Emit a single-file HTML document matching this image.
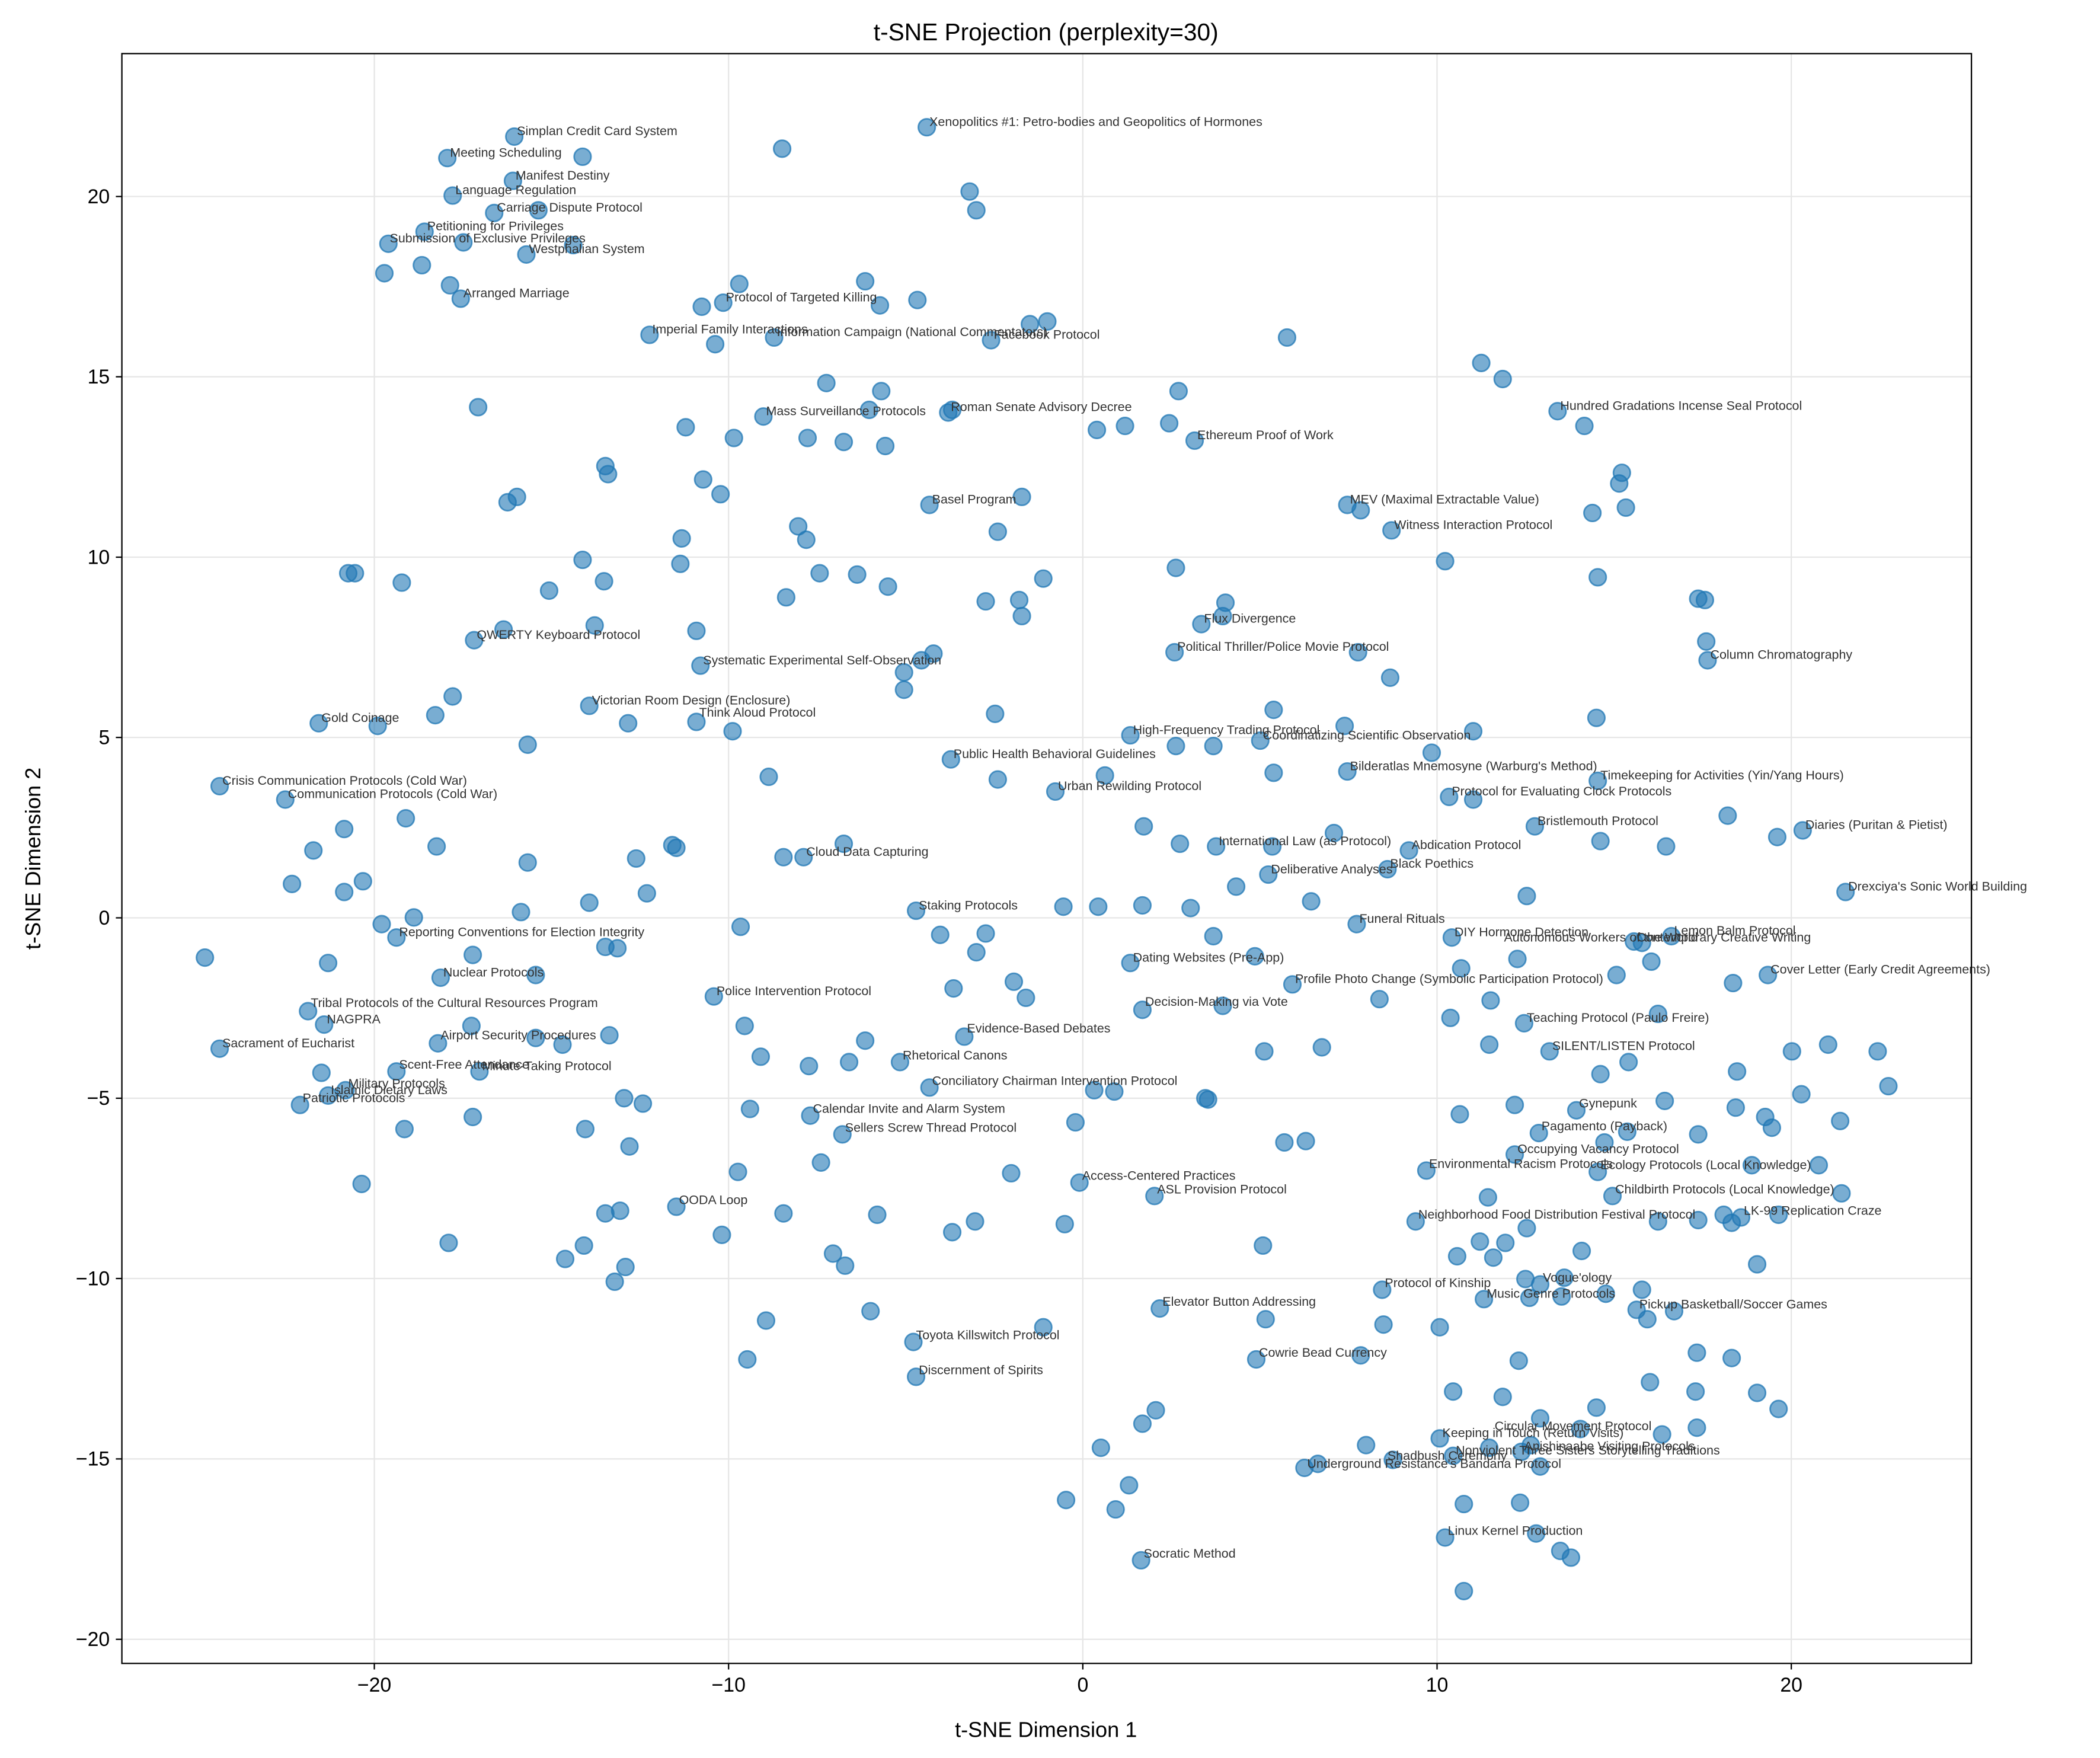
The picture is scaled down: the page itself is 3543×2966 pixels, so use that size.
<!DOCTYPE html>
<html><head><meta charset="utf-8"><style>
html,body{margin:0;padding:0;background:#fff;}
svg{display:block;}
text{font-family:"Liberation Sans","DejaVu Sans",sans-serif;}
.l{font-size:9.5px;fill:#333;}
.t{font-size:15px;fill:#000;}
</style></head><body>
<svg width="3543" height="2966" viewBox="0 0 1568 1312.6" xmlns="http://www.w3.org/2000/svg">
<rect width="1568" height="1312.6" fill="#fff"/>
<g stroke="#e6e6e6" stroke-width="1">
<line x1="279.5" y1="40" x2="279.5" y2="1242"/><line x1="544" y1="40" x2="544" y2="1242"/><line x1="808.5" y1="40" x2="808.5" y2="1242"/><line x1="1073" y1="40" x2="1073" y2="1242"/><line x1="1337.5" y1="40" x2="1337.5" y2="1242"/>
<line x1="91" y1="1224" x2="1472" y2="1224"/><line x1="91" y1="1089.3" x2="1472" y2="1089.3"/><line x1="91" y1="954.6" x2="1472" y2="954.6"/><line x1="91" y1="820" x2="1472" y2="820"/><line x1="91" y1="685.3" x2="1472" y2="685.3"/><line x1="91" y1="550.6" x2="1472" y2="550.6"/><line x1="91" y1="416" x2="1472" y2="416"/><line x1="91" y1="281.3" x2="1472" y2="281.3"/><line x1="91" y1="146.7" x2="1472" y2="146.7"/>
</g>
<g fill="#1f77b4" fill-opacity="0.6" stroke="#1f77b4" stroke-opacity="0.75" stroke-width="1.2">
<circle cx="384" cy="102" r="6.3"/><circle cx="692" cy="95" r="6.3"/><circle cx="334" cy="118" r="6.3"/><circle cx="383" cy="135" r="6.3"/><circle cx="338" cy="146" r="6.3"/><circle cx="369" cy="159" r="6.3"/><circle cx="317" cy="173" r="6.3"/><circle cx="290" cy="182" r="6.3"/><circle cx="393" cy="190" r="6.3"/><circle cx="344" cy="223" r="6.3"/><circle cx="485" cy="250" r="6.3"/><circle cx="540" cy="226" r="6.3"/><circle cx="578" cy="252" r="6.3"/><circle cx="740" cy="254" r="6.3"/><circle cx="708" cy="308" r="6.3"/><circle cx="570" cy="311" r="6.3"/><circle cx="892" cy="329" r="6.3"/><circle cx="1163" cy="307" r="6.3"/><circle cx="694" cy="377" r="6.3"/><circle cx="1006" cy="377" r="6.3"/><circle cx="1039" cy="396" r="6.3"/><circle cx="897" cy="466" r="6.3"/><circle cx="354" cy="478" r="6.3"/><circle cx="877" cy="487" r="6.3"/><circle cx="523" cy="497" r="6.3"/><circle cx="1275" cy="493" r="6.3"/><circle cx="440" cy="527" r="6.3"/><circle cx="520" cy="539" r="6.3"/><circle cx="238" cy="540" r="6.3"/><circle cx="844" cy="549" r="6.3"/><circle cx="941" cy="553" r="6.3"/><circle cx="710" cy="567" r="6.3"/><circle cx="164" cy="587" r="6.3"/><circle cx="213" cy="597" r="6.3"/><circle cx="1006" cy="576" r="6.3"/><circle cx="1193" cy="583" r="6.3"/><circle cx="1082" cy="595" r="6.3"/><circle cx="788" cy="591" r="6.3"/><circle cx="1146" cy="617" r="6.3"/><circle cx="1346" cy="620" r="6.3"/><circle cx="908" cy="632" r="6.3"/><circle cx="1052" cy="635" r="6.3"/><circle cx="600" cy="640" r="6.3"/><circle cx="947" cy="653" r="6.3"/><circle cx="1036" cy="649" r="6.3"/><circle cx="1378" cy="666" r="6.3"/><circle cx="684" cy="680" r="6.3"/><circle cx="1013" cy="690" r="6.3"/><circle cx="296" cy="700" r="6.3"/><circle cx="1084" cy="700" r="6.3"/><circle cx="1248" cy="699" r="6.3"/><circle cx="1220" cy="703" r="6.3"/><circle cx="329" cy="730" r="6.3"/><circle cx="844" cy="719" r="6.3"/><circle cx="1320" cy="728" r="6.3"/><circle cx="965" cy="735" r="6.3"/><circle cx="533" cy="744" r="6.3"/><circle cx="230" cy="755" r="6.3"/><circle cx="242" cy="765" r="6.3"/><circle cx="853" cy="754" r="6.3"/><circle cx="1138" cy="764" r="6.3"/><circle cx="720" cy="774" r="6.3"/><circle cx="164" cy="783" r="6.3"/><circle cx="327" cy="779" r="6.3"/><circle cx="1157" cy="785" r="6.3"/><circle cx="672" cy="793" r="6.3"/><circle cx="296" cy="800" r="6.3"/><circle cx="358" cy="800" r="6.3"/><circle cx="258" cy="814" r="6.3"/><circle cx="245" cy="818" r="6.3"/><circle cx="224" cy="825" r="6.3"/><circle cx="694" cy="812" r="6.3"/><circle cx="1177" cy="829" r="6.3"/><circle cx="605" cy="833" r="6.3"/><circle cx="1149" cy="846" r="6.3"/><circle cx="629" cy="847" r="6.3"/><circle cx="1131" cy="862" r="6.3"/><circle cx="1065" cy="874" r="6.3"/><circle cx="1193" cy="875" r="6.3"/><circle cx="806" cy="883" r="6.3"/><circle cx="1204" cy="893" r="6.3"/><circle cx="862" cy="893" r="6.3"/><circle cx="505" cy="901" r="6.3"/><circle cx="1057" cy="912" r="6.3"/><circle cx="1300" cy="909" r="6.3"/><circle cx="1150" cy="959" r="6.3"/><circle cx="1032" cy="963" r="6.3"/><circle cx="1108" cy="970" r="6.3"/><circle cx="1222" cy="978" r="6.3"/><circle cx="866" cy="977" r="6.3"/><circle cx="682" cy="1002" r="6.3"/><circle cx="938" cy="1015" r="6.3"/><circle cx="684" cy="1028" r="6.3"/><circle cx="1180" cy="1067" r="6.3"/><circle cx="1075" cy="1074" r="6.3"/><circle cx="1136" cy="1084" r="6.3"/><circle cx="1085" cy="1087" r="6.3"/><circle cx="1040" cy="1090" r="6.3"/><circle cx="974" cy="1096" r="6.3"/><circle cx="1079" cy="1148" r="6.3"/><circle cx="852" cy="1165" r="6.3"/>
<circle cx="584" cy="111" r="6.3"/><circle cx="724" cy="143" r="6.3"/><circle cx="729" cy="157" r="6.3"/><circle cx="287" cy="204" r="6.3"/><circle cx="315" cy="198" r="6.3"/><circle cx="336" cy="213" r="6.3"/><circle cx="346" cy="181" r="6.3"/><circle cx="402" cy="157" r="6.3"/><circle cx="435" cy="117" r="6.3"/><circle cx="428" cy="183" r="6.3"/><circle cx="524" cy="229" r="6.3"/><circle cx="552" cy="212" r="6.3"/><circle cx="646" cy="210" r="6.3"/><circle cx="657" cy="228" r="6.3"/><circle cx="685" cy="224" r="6.3"/><circle cx="534" cy="257" r="6.3"/><circle cx="769" cy="242" r="6.3"/><circle cx="782" cy="240" r="6.3"/><circle cx="961" cy="252" r="6.3"/><circle cx="357" cy="304" r="6.3"/><circle cx="617" cy="286" r="6.3"/><circle cx="658" cy="292" r="6.3"/><circle cx="649" cy="306" r="6.3"/><circle cx="512" cy="319" r="6.3"/><circle cx="548" cy="327" r="6.3"/><circle cx="603" cy="327" r="6.3"/><circle cx="630" cy="330" r="6.3"/><circle cx="661" cy="333" r="6.3"/><circle cx="711" cy="306" r="6.3"/><circle cx="819" cy="321" r="6.3"/><circle cx="840" cy="318" r="6.3"/><circle cx="873" cy="316" r="6.3"/><circle cx="880" cy="292" r="6.3"/><circle cx="1106" cy="271" r="6.3"/><circle cx="1122" cy="283" r="6.3"/><circle cx="1183" cy="318" r="6.3"/><circle cx="1211" cy="353" r="6.3"/><circle cx="1209" cy="361" r="6.3"/><circle cx="1214" cy="379" r="6.3"/><circle cx="1189" cy="383" r="6.3"/><circle cx="1016" cy="381" r="6.3"/><circle cx="452" cy="348" r="6.3"/><circle cx="454" cy="354" r="6.3"/><circle cx="379" cy="375" r="6.3"/><circle cx="386" cy="371" r="6.3"/><circle cx="525" cy="358" r="6.3"/><circle cx="538" cy="369" r="6.3"/><circle cx="763" cy="371" r="6.3"/><circle cx="745" cy="397" r="6.3"/><circle cx="596" cy="393" r="6.3"/><circle cx="602" cy="403" r="6.3"/><circle cx="509" cy="402" r="6.3"/><circle cx="508" cy="421" r="6.3"/><circle cx="435" cy="418" r="6.3"/><circle cx="451" cy="434" r="6.3"/><circle cx="260" cy="428" r="6.3"/><circle cx="265" cy="428" r="6.3"/><circle cx="300" cy="435" r="6.3"/><circle cx="410" cy="441" r="6.3"/><circle cx="587" cy="446" r="6.3"/><circle cx="612" cy="428" r="6.3"/><circle cx="640" cy="429" r="6.3"/><circle cx="663" cy="438" r="6.3"/><circle cx="736" cy="449" r="6.3"/><circle cx="779" cy="432" r="6.3"/><circle cx="878" cy="424" r="6.3"/><circle cx="915" cy="450" r="6.3"/><circle cx="913" cy="460" r="6.3"/><circle cx="1079" cy="419" r="6.3"/><circle cx="1193" cy="431" r="6.3"/><circle cx="1268" cy="447" r="6.3"/><circle cx="1273" cy="448" r="6.3"/><circle cx="1274" cy="479" r="6.3"/><circle cx="1014" cy="487" r="6.3"/><circle cx="1038" cy="506" r="6.3"/><circle cx="444" cy="467" r="6.3"/><circle cx="376" cy="470" r="6.3"/><circle cx="520" cy="471" r="6.3"/><circle cx="697" cy="488" r="6.3"/><circle cx="688" cy="493" r="6.3"/><circle cx="675" cy="502" r="6.3"/><circle cx="675" cy="515" r="6.3"/><circle cx="761" cy="448" r="6.3"/><circle cx="763" cy="460" r="6.3"/><circle cx="338" cy="520" r="6.3"/><circle cx="325" cy="534" r="6.3"/><circle cx="282" cy="542" r="6.3"/><circle cx="469" cy="540" r="6.3"/><circle cx="547" cy="546" r="6.3"/><circle cx="743" cy="533" r="6.3"/><circle cx="951" cy="530" r="6.3"/><circle cx="1004" cy="542" r="6.3"/><circle cx="1100" cy="546" r="6.3"/><circle cx="1192" cy="536" r="6.3"/><circle cx="1069" cy="562" r="6.3"/><circle cx="878" cy="557" r="6.3"/><circle cx="906" cy="557" r="6.3"/><circle cx="394" cy="556" r="6.3"/><circle cx="574" cy="580" r="6.3"/><circle cx="745" cy="582" r="6.3"/><circle cx="825" cy="579" r="6.3"/><circle cx="951" cy="577" r="6.3"/><circle cx="1100" cy="597" r="6.3"/><circle cx="1290" cy="609" r="6.3"/><circle cx="1327" cy="625" r="6.3"/><circle cx="1244" cy="632" r="6.3"/><circle cx="854" cy="617" r="6.3"/><circle cx="881" cy="630" r="6.3"/><circle cx="950" cy="632" r="6.3"/><circle cx="996" cy="622" r="6.3"/><circle cx="1195" cy="628" r="6.3"/><circle cx="326" cy="632" r="6.3"/><circle cx="394" cy="644" r="6.3"/><circle cx="303" cy="611" r="6.3"/><circle cx="234" cy="635" r="6.3"/><circle cx="257" cy="619" r="6.3"/><circle cx="271" cy="658" r="6.3"/><circle cx="218" cy="660" r="6.3"/><circle cx="257" cy="666" r="6.3"/><circle cx="475" cy="641" r="6.3"/><circle cx="502" cy="631" r="6.3"/><circle cx="505" cy="633" r="6.3"/><circle cx="440" cy="674" r="6.3"/><circle cx="483" cy="667" r="6.3"/><circle cx="585" cy="640" r="6.3"/><circle cx="630" cy="630" r="6.3"/><circle cx="389" cy="681" r="6.3"/><circle cx="285" cy="690" r="6.3"/><circle cx="309" cy="685" r="6.3"/><circle cx="553" cy="692" r="6.3"/><circle cx="702" cy="698" r="6.3"/><circle cx="736" cy="697" r="6.3"/><circle cx="729" cy="711" r="6.3"/><circle cx="794" cy="677" r="6.3"/><circle cx="820" cy="677" r="6.3"/><circle cx="853" cy="676" r="6.3"/><circle cx="889" cy="678" r="6.3"/><circle cx="906" cy="699" r="6.3"/><circle cx="923" cy="662" r="6.3"/><circle cx="979" cy="673" r="6.3"/><circle cx="1140" cy="669" r="6.3"/><circle cx="1226" cy="704" r="6.3"/><circle cx="1233" cy="718" r="6.3"/><circle cx="153" cy="715" r="6.3"/><circle cx="245" cy="719" r="6.3"/><circle cx="353" cy="713" r="6.3"/><circle cx="452" cy="707" r="6.3"/><circle cx="461" cy="708" r="6.3"/><circle cx="400" cy="728" r="6.3"/><circle cx="1091" cy="723" r="6.3"/><circle cx="1133" cy="716" r="6.3"/><circle cx="1207" cy="728" r="6.3"/><circle cx="1294" cy="734" r="6.3"/><circle cx="757" cy="733" r="6.3"/><circle cx="766" cy="745" r="6.3"/><circle cx="712" cy="738" r="6.3"/><circle cx="937" cy="714" r="6.3"/><circle cx="913" cy="751" r="6.3"/><circle cx="1030" cy="746" r="6.3"/><circle cx="1113" cy="747" r="6.3"/><circle cx="1083" cy="760" r="6.3"/><circle cx="1238" cy="757" r="6.3"/><circle cx="1112" cy="780" r="6.3"/><circle cx="1338" cy="785" r="6.3"/><circle cx="1365" cy="780" r="6.3"/><circle cx="1402" cy="785" r="6.3"/><circle cx="944" cy="785" r="6.3"/><circle cx="987" cy="782" r="6.3"/><circle cx="556" cy="766" r="6.3"/><circle cx="568" cy="789" r="6.3"/><circle cx="604" cy="796" r="6.3"/><circle cx="646" cy="777" r="6.3"/><circle cx="634" cy="793" r="6.3"/><circle cx="240" cy="801" r="6.3"/><circle cx="400" cy="775" r="6.3"/><circle cx="420" cy="780" r="6.3"/><circle cx="455" cy="773" r="6.3"/><circle cx="352" cy="766" r="6.3"/><circle cx="1195" cy="802" r="6.3"/><circle cx="1216" cy="793" r="6.3"/><circle cx="1297" cy="800" r="6.3"/><circle cx="1345" cy="817" r="6.3"/><circle cx="1410" cy="811" r="6.3"/><circle cx="900" cy="820" r="6.3"/><circle cx="902" cy="821" r="6.3"/><circle cx="817" cy="814" r="6.3"/><circle cx="832" cy="815" r="6.3"/><circle cx="466" cy="820" r="6.3"/><circle cx="480" cy="824" r="6.3"/><circle cx="560" cy="828" r="6.3"/><circle cx="1090" cy="832" r="6.3"/><circle cx="1131" cy="825" r="6.3"/><circle cx="1243" cy="822" r="6.3"/><circle cx="1296" cy="827" r="6.3"/><circle cx="1318" cy="834" r="6.3"/><circle cx="1374" cy="837" r="6.3"/><circle cx="1323" cy="842" r="6.3"/><circle cx="437" cy="843" r="6.3"/><circle cx="302" cy="843" r="6.3"/><circle cx="353" cy="834" r="6.3"/><circle cx="470" cy="856" r="6.3"/><circle cx="803" cy="838" r="6.3"/><circle cx="959" cy="853" r="6.3"/><circle cx="975" cy="852" r="6.3"/><circle cx="1198" cy="853" r="6.3"/><circle cx="1215" cy="845" r="6.3"/><circle cx="1268" cy="847" r="6.3"/><circle cx="1358" cy="870" r="6.3"/><circle cx="1308" cy="870" r="6.3"/><circle cx="1375" cy="891" r="6.3"/><circle cx="613" cy="868" r="6.3"/><circle cx="551" cy="875" r="6.3"/><circle cx="755" cy="876" r="6.3"/><circle cx="1111" cy="894" r="6.3"/><circle cx="1268" cy="911" r="6.3"/><circle cx="1287" cy="907" r="6.3"/><circle cx="1293" cy="913" r="6.3"/><circle cx="1328" cy="907" r="6.3"/><circle cx="270" cy="884" r="6.3"/><circle cx="463" cy="904" r="6.3"/><circle cx="452" cy="906" r="6.3"/><circle cx="335" cy="928" r="6.3"/><circle cx="422" cy="940" r="6.3"/><circle cx="436" cy="930" r="6.3"/><circle cx="459" cy="957" r="6.3"/><circle cx="467" cy="946" r="6.3"/><circle cx="539" cy="922" r="6.3"/><circle cx="585" cy="906" r="6.3"/><circle cx="655" cy="907" r="6.3"/><circle cx="711" cy="920" r="6.3"/><circle cx="728" cy="912" r="6.3"/><circle cx="795" cy="914" r="6.3"/><circle cx="943" cy="930" r="6.3"/><circle cx="1115" cy="939" r="6.3"/><circle cx="1088" cy="938" r="6.3"/><circle cx="1105" cy="927" r="6.3"/><circle cx="1124" cy="928" r="6.3"/><circle cx="1181" cy="934" r="6.3"/><circle cx="1312" cy="944" r="6.3"/><circle cx="1238" cy="912" r="6.3"/><circle cx="1140" cy="917" r="6.3"/><circle cx="622" cy="936" r="6.3"/><circle cx="631" cy="945" r="6.3"/><circle cx="1199" cy="966" r="6.3"/><circle cx="1226" cy="963" r="6.3"/><circle cx="1168" cy="954" r="6.3"/><circle cx="1139" cy="955" r="6.3"/><circle cx="1166" cy="968" r="6.3"/><circle cx="1230" cy="985" r="6.3"/><circle cx="1250" cy="979" r="6.3"/><circle cx="1142" cy="969" r="6.3"/><circle cx="945" cy="985" r="6.3"/><circle cx="1033" cy="989" r="6.3"/><circle cx="650" cy="979" r="6.3"/><circle cx="572" cy="986" r="6.3"/><circle cx="779" cy="991" r="6.3"/><circle cx="1075" cy="991" r="6.3"/><circle cx="1016" cy="1012" r="6.3"/><circle cx="1134" cy="1016" r="6.3"/><circle cx="1267" cy="1010" r="6.3"/><circle cx="1293" cy="1014" r="6.3"/><circle cx="558" cy="1015" r="6.3"/><circle cx="1085" cy="1039" r="6.3"/><circle cx="1122" cy="1043" r="6.3"/><circle cx="1192" cy="1051" r="6.3"/><circle cx="1266" cy="1039" r="6.3"/><circle cx="1312" cy="1040" r="6.3"/><circle cx="1328" cy="1052" r="6.3"/><circle cx="863" cy="1053" r="6.3"/><circle cx="853" cy="1063" r="6.3"/><circle cx="1150" cy="1059" r="6.3"/><circle cx="1267" cy="1066" r="6.3"/><circle cx="1241" cy="1071" r="6.3"/><circle cx="1143" cy="1079" r="6.3"/><circle cx="1112" cy="1081" r="6.3"/><circle cx="822" cy="1081" r="6.3"/><circle cx="1020" cy="1079" r="6.3"/><circle cx="984" cy="1093" r="6.3"/><circle cx="1150" cy="1095" r="6.3"/><circle cx="843" cy="1109" r="6.3"/><circle cx="796" cy="1120" r="6.3"/><circle cx="833" cy="1127" r="6.3"/><circle cx="1093" cy="1123" r="6.3"/><circle cx="1135" cy="1122" r="6.3"/><circle cx="1147" cy="1145" r="6.3"/><circle cx="1093" cy="1188" r="6.3"/><circle cx="1165" cy="1158" r="6.3"/><circle cx="1173" cy="1163" r="6.3"/><circle cx="1232" cy="1032" r="6.3"/>
</g>
<g class="l">
<text x="386" y="101">Simplan Credit Card System</text>
<text x="694" y="94">Xenopolitics #1: Petro-bodies and Geopolitics of Hormones</text>
<text x="336" y="117">Meeting Scheduling</text>
<text x="385" y="134">Manifest Destiny</text>
<text x="340" y="145">Language Regulation</text>
<text x="371" y="158">Carriage Dispute Protocol</text>
<text x="319" y="172">Petitioning for Privileges</text>
<text x="291" y="181">Submission of Exclusive Privileges</text>
<text x="395" y="189">Westphalian System</text>
<text x="346" y="222">Arranged Marriage</text>
<text x="487" y="249">Imperial Family Interactions</text>
<text x="542" y="225">Protocol of Targeted Killing</text>
<text x="580" y="251">Information Campaign (National Commentators)</text>
<text x="742" y="253">Facebook Protocol</text>
<text x="710" y="307">Roman Senate Advisory Decree</text>
<text x="572" y="310">Mass Surveillance Protocols</text>
<text x="894" y="328">Ethereum Proof of Work</text>
<text x="1165" y="306">Hundred Gradations Incense Seal Protocol</text>
<text x="696" y="376">Basel Program</text>
<text x="1008" y="376">MEV (Maximal Extractable Value)</text>
<text x="1041" y="395">Witness Interaction Protocol</text>
<text x="899" y="465">Flux Divergence</text>
<text x="356" y="477">QWERTY Keyboard Protocol</text>
<text x="879" y="486">Political Thriller/Police Movie Protocol</text>
<text x="525" y="496">Systematic Experimental Self-Observation</text>
<text x="1277" y="492">Column Chromatography</text>
<text x="442" y="526">Victorian Room Design (Enclosure)</text>
<text x="522" y="535">Think Aloud Protocol</text>
<text x="240" y="539">Gold Coinage</text>
<text x="846" y="548">High-Frequency Trading Protocol</text>
<text x="943" y="552">Coordinatizing Scientific Observation</text>
<text x="712" y="566">Public Health Behavioral Guidelines</text>
<text x="166" y="586">Crisis Communication Protocols (Cold War)</text>
<text x="215" y="596">Communication Protocols (Cold War)</text>
<text x="1008" y="575">Bilderatlas Mnemosyne (Warburg's Method)</text>
<text x="1195" y="582">Timekeeping for Activities (Yin/Yang Hours)</text>
<text x="1084" y="594">Protocol for Evaluating Clock Protocols</text>
<text x="790" y="590">Urban Rewilding Protocol</text>
<text x="1148" y="616">Bristlemouth Protocol</text>
<text x="1348" y="619">Diaries (Puritan &amp; Pietist)</text>
<text x="910" y="631">International Law (as Protocol)</text>
<text x="1054" y="634">Abdication Protocol</text>
<text x="602" y="639">Cloud Data Capturing</text>
<text x="949" y="652">Deliberative Analyses</text>
<text x="1038" y="648">Black Poethics</text>
<text x="1380" y="665">Drexciya's Sonic World Building</text>
<text x="686" y="679">Staking Protocols</text>
<text x="1015" y="689">Funeral Rituals</text>
<text x="298" y="699">Reporting Conventions for Election Integrity</text>
<text x="1086" y="699">DIY Hormone Detection</text>
<text x="1250" y="698">Lemon Balm Protocol</text>
<text x="1123" y="703">Autonomous Workers of the World</text>
<text x="1222" y="703">Contemporary Creative Writing</text>
<text x="331" y="729">Nuclear Protocols</text>
<text x="846" y="718">Dating Websites (Pre-App)</text>
<text x="1322" y="727">Cover Letter (Early Credit Agreements)</text>
<text x="967" y="734">Profile Photo Change (Symbolic Participation Protocol)</text>
<text x="535" y="743">Police Intervention Protocol</text>
<text x="232" y="752">Tribal Protocols of the Cultural Resources Program</text>
<text x="244" y="764">NAGPRA</text>
<text x="855" y="751">Decision-Making via Vote</text>
<text x="1140" y="763">Teaching Protocol (Paulo Freire)</text>
<text x="722" y="771">Evidence-Based Debates</text>
<text x="166" y="782">Sacrament of Eucharist</text>
<text x="329" y="776">Airport Security Procedures</text>
<text x="1159" y="784">SILENT/LISTEN Protocol</text>
<text x="674" y="791">Rhetorical Canons</text>
<text x="298" y="798">Scent-Free Attendance</text>
<text x="360" y="799">Minute-Taking Protocol</text>
<text x="260" y="812">Military Protocols</text>
<text x="247" y="817">Islamic Dietary Laws</text>
<text x="226" y="823">Patriotic Protocols</text>
<text x="696" y="810">Conciliatory Chairman Intervention Protocol</text>
<text x="1179" y="827">Gynepunk</text>
<text x="607" y="831">Calendar Invite and Alarm System</text>
<text x="1151" y="844">Pagamento (Payback)</text>
<text x="631" y="845">Sellers Screw Thread Protocol</text>
<text x="1133" y="861">Occupying Vacancy Protocol</text>
<text x="1067" y="872">Environmental Racism Protocols</text>
<text x="1195" y="873">Ecology Protocols (Local Knowledge)</text>
<text x="808" y="881">Access-Centered Practices</text>
<text x="1206" y="891">Childbirth Protocols (Local Knowledge)</text>
<text x="864" y="891">ASL Provision Protocol</text>
<text x="507" y="899">OODA Loop</text>
<text x="1059" y="910">Neighborhood Food Distribution Festival Protocol</text>
<text x="1302" y="907">LK-99 Replication Craze</text>
<text x="1152" y="957">Vogue'ology</text>
<text x="1034" y="961">Protocol of Kinship</text>
<text x="1110" y="969">Music Genre Protocols</text>
<text x="1224" y="977">Pickup Basketball/Soccer Games</text>
<text x="868" y="975">Elevator Button Addressing</text>
<text x="684" y="1000">Toyota Killswitch Protocol</text>
<text x="940" y="1013">Cowrie Bead Currency</text>
<text x="686" y="1026">Discernment of Spirits</text>
<text x="1116" y="1068">Circular Movement Protocol</text>
<text x="1077" y="1073">Keeping in Touch (Return Visits)</text>
<text x="1138" y="1083">Anishinaabe Visiting Protocols</text>
<text x="1087" y="1086">Nonviolent Three Sisters Storytelling Traditions</text>
<text x="1036" y="1090">Shadbush Ceremony</text>
<text x="976" y="1096">Underground Resistance's Bandana Protocol</text>
<text x="1081" y="1146">Linux Kernel Production</text>
<text x="854" y="1163">Socratic Method</text>
</g>
<rect x="91" y="40" width="1381" height="1202" fill="none" stroke="#000" stroke-width="1"/>
<g stroke="#000" stroke-width="1">
<line x1="279.5" y1="1242" x2="279.5" y2="1246.5"/><line x1="544" y1="1242" x2="544" y2="1246.5"/><line x1="808.5" y1="1242" x2="808.5" y2="1246.5"/><line x1="1073" y1="1242" x2="1073" y2="1246.5"/><line x1="1337.5" y1="1242" x2="1337.5" y2="1246.5"/>
<line x1="86.5" y1="1224" x2="91" y2="1224"/><line x1="86.5" y1="1089.3" x2="91" y2="1089.3"/><line x1="86.5" y1="954.6" x2="91" y2="954.6"/><line x1="86.5" y1="820" x2="91" y2="820"/><line x1="86.5" y1="685.3" x2="91" y2="685.3"/><line x1="86.5" y1="550.6" x2="91" y2="550.6"/><line x1="86.5" y1="416" x2="91" y2="416"/><line x1="86.5" y1="281.3" x2="91" y2="281.3"/><line x1="86.5" y1="146.7" x2="91" y2="146.7"/>
</g>
<g class="t" text-anchor="middle">
<text x="279.5" y="1263">−20</text><text x="544" y="1263">−10</text><text x="808.5" y="1263">0</text><text x="1073" y="1263">10</text><text x="1337.5" y="1263">20</text>
</g>
<g class="t" text-anchor="end">
<text x="82" y="1229">−20</text><text x="82" y="1094.3">−15</text><text x="82" y="959.6">−10</text><text x="82" y="825">−5</text><text x="82" y="690.3">0</text><text x="82" y="555.6">5</text><text x="82" y="421">10</text><text x="82" y="286.3">15</text><text x="82" y="151.7">20</text>
</g>
<text x="781" y="1297" text-anchor="middle" style="font-size:16px">t-SNE Dimension 1</text>
<text transform="translate(30,641) rotate(-90)" text-anchor="middle" style="font-size:16px">t-SNE Dimension 2</text>
<text x="781" y="30" text-anchor="middle" style="font-size:18px">t-SNE Projection (perplexity=30)</text>
</svg>
</body></html>
